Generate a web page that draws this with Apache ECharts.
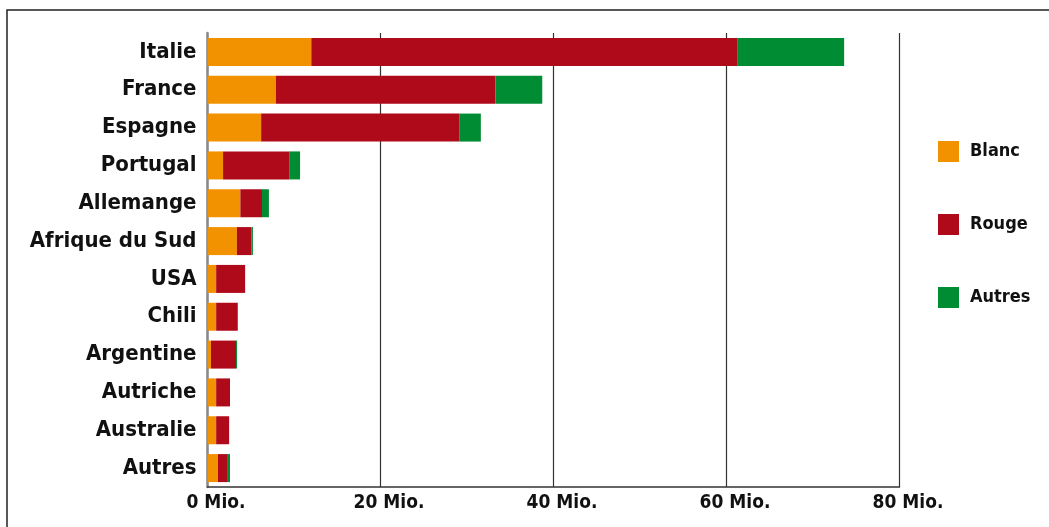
<!DOCTYPE html>
<html><head><meta charset="utf-8">
<script src="https://cdn.jsdelivr.net/npm/echarts@6/dist/echarts.min.js"></script>
<style>html,body{margin:0;padding:0;background:#fff}#c{width:1049px;height:527px}</style>
</head><body><div id="c"></div>
<script>
const categories = ['Italie','France','Espagne','Portugal','Allemange','Afrique du Sud','USA','Chili','Argentine','Autriche','Australie','Autres'];
const blanc  = [12.0, 7.9, 6.2, 1.8, 3.8, 3.4, 1.0, 1.0, 0.4, 1.0, 1.0, 1.2];
const rouge  = [49.3, 25.4, 22.9, 7.7, 2.5, 1.7, 3.35, 2.5, 2.9, 1.6, 1.5, 1.15];
const autres = [12.3, 5.4, 2.5, 1.2, 0.8, 0.15, 0, 0, 0.12, 0, 0, 0.25];
const xTicks = [0, 20, 40, 60, 80];
const seriesNames = ['Blanc','Rouge','Autres'];
const colors = ['#F39200','#AE0A19','#008C32'];
const FONT = '"Liberation Sans Narrow","DejaVu Sans Condensed","Liberation Sans",sans-serif';

const chart = echarts.init(document.getElementById('c'));
const mk = (name, data, i) => ({
  name, type: 'bar', stack: 'total', data, barWidth: 28,
  itemStyle: { color: colors[i] }, emphasis: { disabled: true }
});
chart.setOption({
  animation: false,
  graphic: [{ type: 'rect', shape: { x: 7, y: 10, width: 1200, height: 700 },
    style: { fill: 'none', stroke: '#222', lineWidth: 1.5 }, silent: true, z: -1 }],
  grid: { left: 207.5, right: 149.5, top: 33, bottom: 40, containLabel: false },
  legend: {
    orient: 'vertical', left: 933, top: 136, itemWidth: 21, itemHeight: 21, itemGap: 52,
    icon: 'rect', data: seriesNames,
    textStyle: { fontFamily: FONT, fontWeight: 'bold', fontSize: 18, color: '#111', padding: [0,0,0,6] }
  },
  xAxis: {
    type: 'value', min: xTicks[0], max: xTicks[xTicks.length-1], interval: 20,
    axisLine: { show: true, lineStyle: { color: '#333', width: 1.5 } },
    axisTick: { show: false },
    splitLine: { show: true, lineStyle: { color: '#333', width: 1.2 } },
    axisLabel: { formatter: v => v + ' Mio.', fontFamily: FONT, fontWeight: 'bold', fontSize: 19, color: '#111', margin: 7, padding: [0,0,0,17] }
  },
  yAxis: {
    type: 'category', data: categories, inverse: true,
    axisLine: { show: true, lineStyle: { color: '#888', width: 2.5 } },
    axisTick: { show: false },
    axisLabel: { fontFamily: FONT, fontWeight: 'bold', fontSize: 22, color: '#111', margin: 11 }
  },
  series: [mk('Blanc', blanc, 0), mk('Rouge', rouge, 1), mk('Autres', autres, 2)]
});
</script></body></html>
